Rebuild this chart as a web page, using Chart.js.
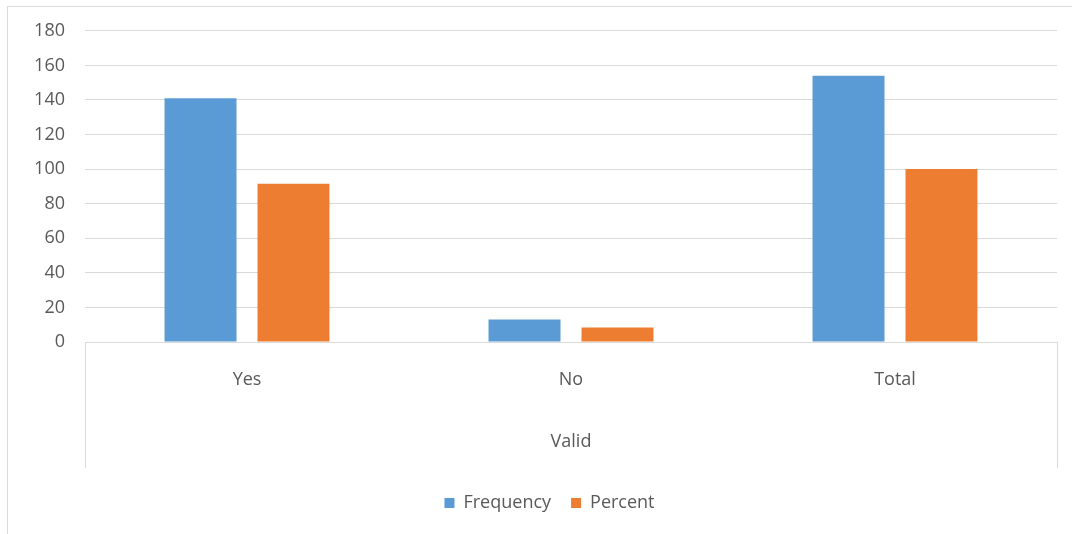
<!DOCTYPE html>
<html>
<head>
<meta charset="utf-8">
<script src="https://cdn.jsdelivr.net/npm/chart.js@4/dist/chart.umd.min.js"></script>
<style>
  html, body { margin: 0; padding: 0; background: #ffffff; }
  #wrap { position: relative; width: 1072px; height: 534px; }
</style>
</head>
<body>
<div id="wrap"><canvas id="c" width="1072" height="534"></canvas></div>
<script>
// Responses for the "Valid" group
const categories = ['Yes', 'No', 'Total'];
const groupLabel = 'Valid';
const frequency = [141, 13, 154];
const percent = [91.6, 8.4, 100];
const yTicks = [0, 20, 40, 60, 80, 100, 120, 140, 160, 180];

const FONT = "'Open Sans', sans-serif";
const TEXT = '#595959';
const GRID = '#d9d9d9';

// Outer frame plus the group separators below the plot
const framePlugin = {
  id: 'frame',
  afterLayout(chart) {
    // centre the legend under the area spanned by the frame
    const lg = chart.legend;
    if (lg) { lg.left += 21; lg.right += 21; }
  },
  beforeDraw(chart) {
    const ctx = chart.ctx;
    ctx.save();
    ctx.strokeStyle = '#d9d9d9';
    ctx.lineWidth = 1;
    ctx.strokeRect(7.5, 6.5, 1100, 600);
    ctx.restore();
  },
  afterDraw(chart) {
    const ctx = chart.ctx;
    const x = chart.scales.x;
    ctx.save();
    ctx.strokeStyle = GRID;
    ctx.lineWidth = 1;
    ctx.beginPath();
    [x.left, x.right].forEach(px => {
      const p = Math.round(px) + 0.5;
      ctx.moveTo(p, x.top);
      ctx.lineTo(p, x.bottom - 6);
    });
    ctx.stroke();
    ctx.restore();
  }
};

new Chart(document.getElementById('c'), {
  type: 'bar',
  data: {
    labels: categories,
    datasets: [
      { label: 'Frequency', data: frequency, backgroundColor: '#5b9bd5' },
      { label: 'Percent', data: percent, backgroundColor: '#ed7d31' }
    ]
  },
  options: {
    responsive: false,
    animation: false,
    layout: { padding: { top: 28, right: 15, left: 0, bottom: 12 } },
    datasets: { bar: { categoryPercentage: 0.574, barPercentage: 0.774 } },
    plugins: {
      legend: {
        position: 'bottom',
        labels: {
          boxWidth: 10, boxHeight: 10, padding: 20,
          color: TEXT, font: { family: FONT, size: 18 }
        }
      },
      tooltip: { enabled: false }
    },
    scales: {
      y: {
        min: 0, max: 180,
        afterBuildTicks(scale) { scale.ticks = yTicks.map(v => ({ value: v })); },
        afterFit(scale) { scale.width = 85; },
        border: { display: false },
        grid: { color: GRID, drawTicks: false },
        ticks: { padding: 20, color: TEXT, font: { family: FONT, size: 18 } }
      },
      x: {
        afterFit(scale) { scale.height = 132; },
        border: { color: GRID },
        grid: { display: false, drawTicks: false },
        ticks: { padding: 27, color: TEXT, font: { family: FONT, size: 18 } },
        title: {
          display: true, text: groupLabel, color: TEXT,
          font: { family: FONT, size: 18 },
          padding: { top: 0, bottom: 21 }
        }
      }
    }
  },
  plugins: [framePlugin]
});
</script>
</body>
</html>
